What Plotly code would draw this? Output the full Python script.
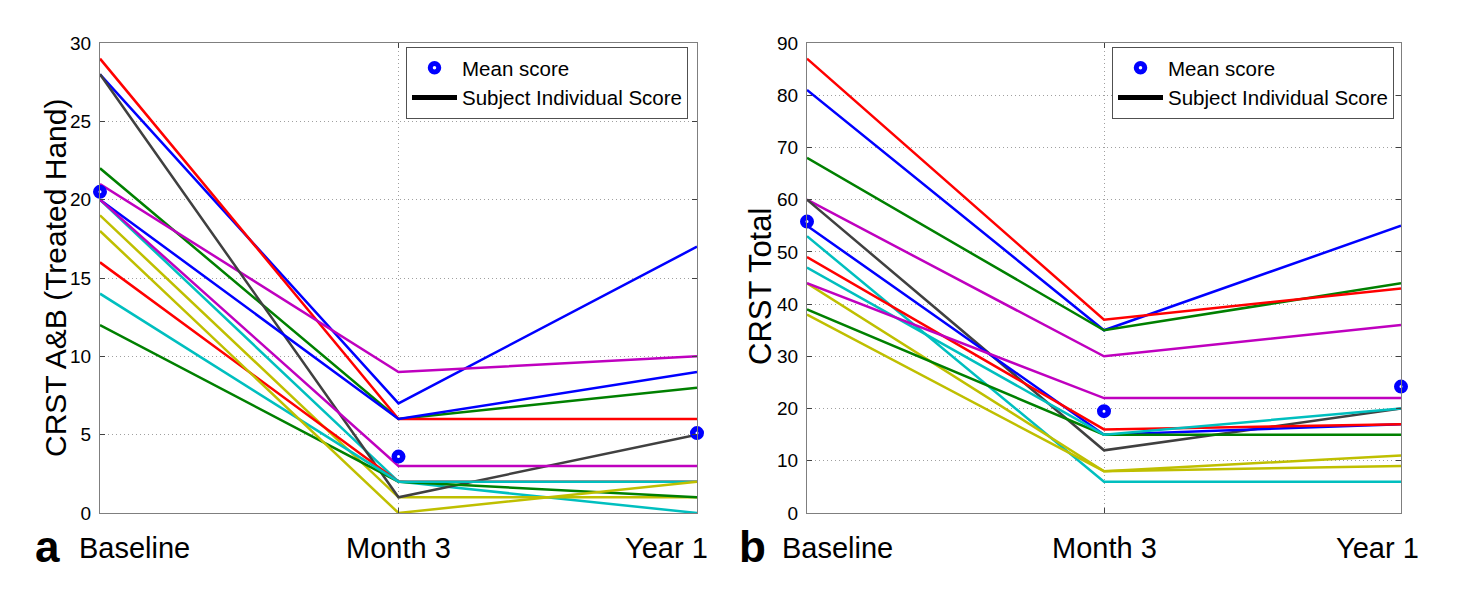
import plotly.graph_objects as go

# ---------------- data ----------------
timepoints = ["Baseline", "Month 3", "Year 1"]

subject_colors = ["#0000ff", "#008000", "#ff0000", "#00bfbf", "#bf00bf", "#bfbf00", "#404040",
                  "#0000ff", "#008000", "#ff0000", "#00bfbf", "#bf00bf", "#bfbf00"]

# panel a : CRST A&B (treated hand)
ab_baseline = [28, 22, 29, 20, 21, 19, 28, 20, 12, 16, 14, 20, 18]
ab_month3   = [7, 6, 6, 2, 9, 1, 1, 6, 2, 2, 2, 3, 0]
ab_year1    = [17, 8, 6, 0, 10, 1, 5, 9, 1, 2, 2, 3, 2]
ab_mean     = [20.5, 3.6, 5.1]

# panel b : CRST total
tot_baseline = [81, 68, 87, 53, 60, 44, 60, 55, 39, 49, 47, 44, 38]
tot_month3   = [35, 35, 37, 6, 30, 8, 12, 15, 15, 16, 15, 22, 8]
tot_year1    = [55, 44, 43, 6, 36, 11, 20, 17, 15, 17, 20, 22, 9]
tot_mean     = [55.8, 19.5, 24.2]

ab_ticks = [0, 5, 10, 15, 20, 25, 30]
tot_ticks = [0, 10, 20, 30, 40, 50, 60, 70, 80, 90]

panel_letters = ["a", "b"]
y_titles = ["CRST A&B (Treated Hand)", "CRST Total"]
legend_names = ["Mean score", "Subject Individual Score"]

# ---------------- figure ----------------
W, H = 1474, 602
FONT = "Liberation Sans, Arial, Helvetica, sans-serif"

fig = go.Figure()

panels = [
    dict(base=ab_baseline, m3=ab_month3, y1=ab_year1, mean=ab_mean, xa="x", ya="y",
         legend="legend", ticks=ab_ticks, ymax=30),
    dict(base=tot_baseline, m3=tot_month3, y1=tot_year1, mean=tot_mean, xa="x2", ya="y2",
         legend="legend2", ticks=tot_ticks, ymax=90),
]

for p in panels:
    for i, c in enumerate(subject_colors):
        fig.add_trace(go.Scatter(
            x=timepoints, y=[p["base"][i], p["m3"][i], p["y1"][i]],
            mode="lines", line=dict(color=c, width=2.5),
            xaxis=p["xa"], yaxis=p["ya"], showlegend=False, hoverinfo="skip"))
    # legend-only entry for individual score
    fig.add_trace(go.Scatter(
        x=[None], y=[None], mode="lines", line=dict(color="black", width=5),
        name=legend_names[1], xaxis=p["xa"], yaxis=p["ya"], legend=p["legend"], legendrank=2))
    fig.add_trace(go.Scatter(
        x=timepoints, y=p["mean"], mode="markers",
        marker=dict(size=8.5, color="white", line=dict(color="#0000ff", width=5.5)),
        name=legend_names[0], cliponaxis=False,
        xaxis=p["xa"], yaxis=p["ya"], legend=p["legend"], legendrank=1))

ydom = [1 - 513 / H, 1 - 43 / H]
xdoms = [[100 / W, 697 / W], [807 / W, 1401 / W]]

axis_common = dict(showline=True, linecolor="#7f7f7f", linewidth=1.3, mirror="ticks",
                   ticks="inside", ticklen=5, tickcolor="#404040",
                   showgrid=True, gridcolor="#a0a0a0", griddash="1px,3px", gridwidth=1,
                   zeroline=False, automargin=False)

for k, (xd, p) in enumerate(zip(xdoms, panels)):
    sfx = "" if k == 0 else str(k + 1)
    fig.update_layout(**{
        "xaxis" + sfx: dict(domain=xd, type="category", range=[0, 2],
                            showticklabels=False, anchor="y" + sfx, **axis_common),
        "yaxis" + sfx: dict(domain=ydom, range=[0, p["ymax"]], tickvals=p["ticks"],
                            tickfont=dict(size=19, color="black", family=FONT),
                            ticklabelstandoff=4,
                            anchor="x" + sfx, **axis_common),
    })

legend_style = dict(bgcolor="white", bordercolor="#505050", borderwidth=1,
                    font=dict(size=20.5, color="black", family=FONT),
                    xanchor="right", yanchor="top", traceorder="normal",
                    itemwidth=45, tracegroupgap=0)
fig.update_layout(
    legend=dict(x=688 / W, y=1 - 47 / H, **legend_style),
    legend2=dict(x=1394 / W, y=1 - 47 / H, **legend_style),
)

# category labels below the axes, y titles and panel letters
label_shift = [[34, 0, -31], [30, 0, -24]]
letter_x = [48, 752]
ytitle_x = [55, 760]
ytitle_shift = [0, -9]
ytitle_size = [30, 31]
annotations = []
for k, p in enumerate(panels):
    for j, t in enumerate(timepoints):
        annotations.append(dict(text=t, x=t, xref=p["xa"], y=1 - 548 / H, yref="paper",
                                xanchor="center", yanchor="middle", xshift=label_shift[k][j],
                                showarrow=False,
                                font=dict(size=29, color="black", family=FONT)))
    annotations.append(dict(text=y_titles[k], textangle=-90, x=ytitle_x[k] / W, xref="paper",
                            y=0.5, yref="y" + ("" if k == 0 else "2") + " domain",
                            xanchor="center", yanchor="middle", showarrow=False,
                            yshift=ytitle_shift[k],
                            font=dict(size=ytitle_size[k], color="black", family=FONT)))
    annotations.append(dict(text="<b>%s</b>" % panel_letters[k], x=letter_x[k] / W, xref="paper",
                            y=1 - 546 / H, yref="paper", xanchor="center", yanchor="middle",
                            showarrow=False,
                            font=dict(size=44, color="black", family=FONT)))

fig.update_layout(
    width=W, height=H,
    margin=dict(l=0, r=0, t=0, b=0, autoexpand=False),
    paper_bgcolor="white", plot_bgcolor="white",
    font=dict(family=FONT, color="black"),
    annotations=annotations,
)

fig.write_html("out.html", config={"displayModeBar": False},
               post_script="document.body.style.margin='0';document.body.style.overflow='hidden';")
